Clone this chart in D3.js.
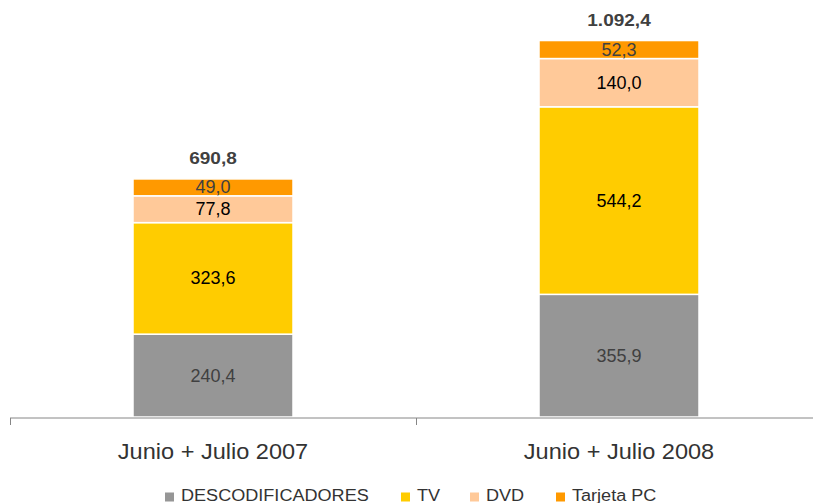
<!DOCTYPE html>
<html>
<head>
<meta charset="utf-8">
<script src="https://cdn.jsdelivr.net/npm/d3@7"></script>
<style>
  body { margin: 0; background: #fff; }
  text { font-family: "Liberation Sans", Arial, sans-serif; }
</style>
</head>
<body>
<svg width="813" height="503"></svg>
<script>
const categories = ["Junio + Julio 2007", "Junio + Julio 2008"];
const seriesNames = ["DESCODIFICADORES", "TV", "DVD", "Tarjeta PC"];
const descodificadores = [240.4, 355.9];
const tv = [323.6, 544.2];
const dvd = [77.8, 140.0];
const tarjetaPC = [49.0, 52.3];
const totals = [690.8, 1092.4];

const colors = ["#969696", "#FFCC00", "#FFC999", "#FF9900"];
const labelColors = ["#404040", "#000", "#000", "#404040"];

const svg = d3.select("svg"),
      margin = {top: 0, right: -8, bottom: 86, left: 10},
      width = +svg.attr("width") - margin.left - margin.right,
      height = +svg.attr("height") - margin.top - margin.bottom;

const chartArea = svg.append("g")
                     .attr("transform", `translate(${margin.left},${margin.top})`);

const x = d3.scaleBand().domain(categories).range([0, 812]).padding(0);
const y = d3.scaleLinear().domain([0, 1210]).range([height, 0]);
const barW = 160;

const rows = categories.map((c, i) => ({
  cat: c,
  DESCODIFICADORES: descodificadores[i],
  TV: tv[i],
  DVD: dvd[i],
  "Tarjeta PC": tarjetaPC[i],
  total: totals[i]
}));

const stacked = d3.stack().keys(seriesNames)(rows);

const fmt = v => {
  const s = v.toFixed(1).split(".");
  return s[0].replace(/\B(?=(\d{3})+(?!\d))/g, ".") + "," + s[1];
};

// text stretched horizontally, like the original picture
function wideText(sel, tx, ty, sx) {
  return sel.attr("transform", (d, i) => `translate(${tx(d, i)},${ty(d, i)}) scale(${sx},1)`);
}

stacked.forEach((layer, li) => {
  const g = chartArea.append("g");
  g.selectAll("rect").data(layer).enter().append("rect")
    .attr("x", d => x(d.data.cat) + x.bandwidth() / 2 - barW / 2)
    .attr("width", barW)
    .attr("y", d => y(d[1]))
    .attr("height", d => y(d[0]) - y(d[1]))
    .attr("fill", colors[li])
    .attr("stroke", "#fff")
    .attr("stroke-width", 1.5);
  g.selectAll("text").data(layer).enter().append("text")
    .attr("x", d => x(d.data.cat) + x.bandwidth() / 2)
    .attr("y", d => (y(d[0]) + y(d[1])) / 2 + 6)
    .attr("text-anchor", "middle")
    .attr("font-size", 18)
    .attr("fill", labelColors[li])
    .text(d => fmt(d[1] - d[0]));
});

// totals
wideText(chartArea.selectAll(".total").data(rows).enter().append("text"),
    d => x(d.cat) + x.bandwidth() / 2, d => y(d.total) - 14.5, 1.12)
  .attr("class", "total")
  .attr("text-anchor", "middle")
  .attr("font-size", 17)
  .attr("font-weight", "bold")
  .attr("fill", "#404040")
  .text(d => fmt(d.total));

// axis
const axis = chartArea.append("g").attr("transform", `translate(0,${height})`);
axis.append("line").attr("x1", 0).attr("x2", 812).attr("y1", 1).attr("y2", 1)
  .attr("stroke", "#868686");
[0, x.bandwidth(), 2 * x.bandwidth()].forEach(t => {
  axis.append("line").attr("x1", t + 0.5).attr("x2", t + 0.5).attr("y1", 1).attr("y2", 8)
    .attr("stroke", "#868686");
});
wideText(axis.selectAll(".cat").data(categories).enter().append("text"),
    d => x(d) + x.bandwidth() / 2, () => 42, 1.07)
  .attr("text-anchor", "middle")
  .attr("font-size", 22)
  .attr("fill", "#333")
  .text(d => d);

// legend
const legendX = [165, 401, 470, 556];
const legend = svg.append("g").attr("transform", "translate(0,497)");
seriesNames.forEach((s, i) => {
  legend.append("rect").attr("x", legendX[i]).attr("y", -4.5).attr("width", 9).attr("height", 9)
    .attr("fill", colors[i]);
  legend.append("text").attr("transform", `translate(${legendX[i] + 16},${3.5}) scale(1.13,1)`)
    .attr("font-size", 16).attr("fill", "#333").text(s);
});
</script>
</body>
</html>
